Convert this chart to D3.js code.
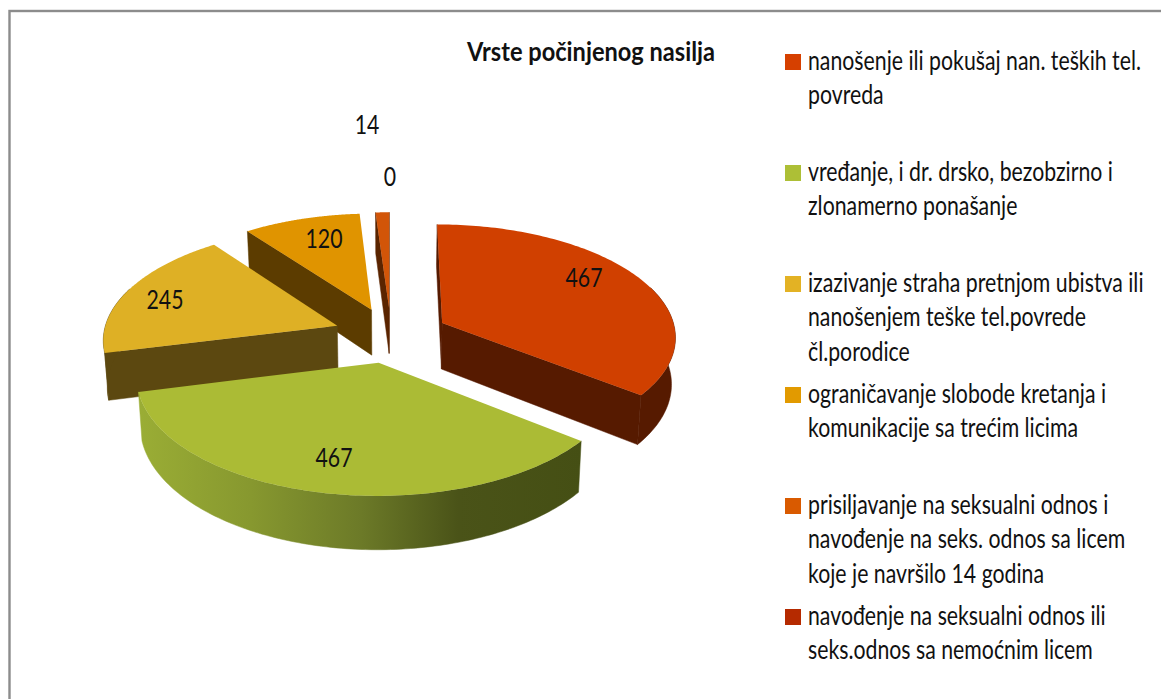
<!DOCTYPE html>
<html>
<head>
<meta charset="utf-8">
<script src="https://cdn.jsdelivr.net/npm/d3@7"></script>
<style>
    body { margin: 0; background: #fff; }
    text { font-family: "Lato", "Open Sans", sans-serif; fill: #111; }
</style>
</head>
<body>
<div id="chart"></div>
<script>
// Data
const categories = [
    "nanošenje ili pokušaj nan. teških tel. povreda",
    "vređanje, i dr. drsko, bezobzirno i zlonamerno ponašanje",
    "izazivanje straha pretnjom ubistva ili nanošenjem teške tel.povrede čl.porodice",
    "ograničavanje slobode kretanja i komunikacije sa trećim licima",
    "prisiljavanje na seksualni odnos i navođenje na seks. odnos sa licem koje je navršilo 14 godina",
    "navođenje na seksualni odnos ili seks.odnos sa nemoćnim licem"
];
const values = [467, 467, 245, 120, 14, 0];

const legendLines = [
    ["nanošenje ili pokušaj nan. teških tel.", "povreda"],
    ["vređanje, i dr. drsko, bezobzirno i", "zlonamerno ponašanje"],
    ["izazivanje straha pretnjom ubistva ili", "nanošenjem teške tel.povrede", "čl.porodice"],
    ["ograničavanje slobode kretanja i", "komunikacije sa trećim licima"],
    ["prisiljavanje na seksualni odnos i", "navođenje na seks. odnos sa licem", "koje je navršilo 14 godina"],
    ["navođenje na seksualni odnos ili", "seks.odnos sa nemoćnim licem"]
];

const topColors = ["#d04000", "#abbb35", "#deb025", "#e09400", "#d25508", "#b52a00"];
const wallColors = ["#561a00", "#5c6a1c", "#5c4810", "#5c3c00", "#5a2400", "#4a1000"];
const legendColors = ["#d64000", "#adbf36", "#e3b224", "#e29a00", "#d95a00", "#b52a00"];

// Chart layout
const svgWidth = 1161;
const svgHeight = 699;
const center = { x: 391, y: 335 };
const radiusX = 234;
const radiusY = 112;
const perspective = 0.11;
const explode = 0.246;
const depth = 46.5;
const bottomShrink = 0.014;
const legendRow = d3.scaleLinear().domain([0, 5]).range([54, 609]);

const svg = d3.select("#chart")
    .append("svg")
    .attr("width", svgWidth)
    .attr("height", svgHeight);

// Frame
svg.append("rect")
    .attr("x", 9.5)
    .attr("y", 11)
    .attr("width", 1162)
    .attr("height", 700)
    .attr("fill", "#fff")
    .attr("stroke", "#8c8c8c")
    .attr("stroke-width", 2.4);

// Shading across the front of the green wall
const gradient = svg.append("defs").append("linearGradient")
    .attr("id", "greenWall")
    .attr("gradientUnits", "userSpaceOnUse")
    .attr("x1", 140)
    .attr("x2", 582)
    .attr("y1", 0)
    .attr("y2", 0);
const gradientStops = [[0, "#9aad35"], [0.25, "#87982f"], [0.5, "#6c7a28"], [0.72, "#4a5318"], [1, "#454f14"]];
gradient.selectAll("stop")
    .data(gradientStops)
    .enter().append("stop")
    .attr("offset", d => d[0])
    .attr("stop-color", d => d[1]);

// Pie angles, clockwise from the top, in data order
const pie = d3.pie().sort(null).value(d => d);
const slices = pie(values)
    .map((d, i) => {
        const mid = (d.startAngle + d.endAngle) / 2;
        return {
            ...d,
            i,
            ox: explode * Math.sin(mid),
            oy: explode * Math.cos(mid)
        };
    })
    .filter(d => d.value > 0)
    .sort((a, b) => d3.descending(a.oy, b.oy));

// Ground plane to screen, dropped by h pixels
function project(wx, wy, h) {
    const s = 1 / (1 + perspective * wy);
    const shrink = 1 - bottomShrink * h / depth;
    return [
        center.x + radiusX * wx * s * shrink,
        center.y - radiusY * wy * s + h * s
    ];
}

function rimPoint(d, angle, h) {
    return project(d.ox + Math.sin(angle), d.oy + Math.cos(angle), h);
}

const line = d3.line().curve(d3.curveLinearClosed);

function drawWall(g, pts, color) {
    g.append("path")
        .attr("d", line(pts))
        .attr("fill", color)
        .attr("stroke", color)
        .attr("stroke-width", 0.5);
}

const sliceG = svg.selectAll(".slice")
    .data(slices)
    .enter().append("g")
    .attr("class", "slice");

sliceG.each(function (d) {
    const g = d3.select(this);
    const apexTop = project(d.ox, d.oy, 0);
    const apexBottom = project(d.ox, d.oy, depth);
    const angles = d3.range(0, 121).map(k => d.startAngle + (d.endAngle - d.startAngle) * k / 120);

    // Radial faces, only those turned to the viewer
    const startFace = [apexTop, rimPoint(d, d.startAngle, 0), rimPoint(d, d.startAngle, depth), apexBottom];
    const endFace = [apexTop, apexBottom, rimPoint(d, d.endAngle, depth), rimPoint(d, d.endAngle, 0)];
    if (d3.polygonArea(startFace) > 0) drawWall(g, startFace, wallColors[d.i]);
    if (d3.polygonArea(endFace) > 0) drawWall(g, endFace, wallColors[d.i]);

    // Outer wall, the part that faces the viewer
    const front = angles.filter(a => Math.cos(a) < 0.35);
    if (front.length > 1) {
        const rim = front.map(a => rimPoint(d, a, 0))
            .concat(front.slice().reverse().map(a => rimPoint(d, a, depth)));
        drawWall(g, rim, d.i === 1 ? "url(#greenWall)" : wallColors[d.i]);
    }

    // Top face
    const top = [apexTop].concat(angles.map(a => rimPoint(d, a, 0)));
    g.append("path")
        .attr("d", line(top))
        .attr("fill", topColors[d.i]);
});

// Lato is wider than the chart's font, so text gets squeezed to the reference width
function textScale(str, size, weight, target) {
    const probe = svg.append("text")
        .attr("font-size", size)
        .attr("font-weight", weight)
        .text(str);
    const w = probe.node().getComputedTextLength();
    probe.remove();
    return target / w;
}

const fontSize = 26;
const titleSize = 27;
const bodyScale = textScale(legendLines[0][0], fontSize, "normal", 333);
const titleScale = textScale("Vrste počinjenog nasilja", titleSize, "bold", 248);

// Title
svg.append("text")
    .attr("transform", `translate(591,61) scale(${titleScale},1)`)
    .attr("text-anchor", "middle")
    .attr("font-size", titleSize)
    .attr("font-weight", "bold")
    .text("Vrste počinjenog nasilja");

// Data labels
const labelX = [584, 334, 165, 324, 367, 390];
const labelY = [287, 467, 309, 248, 134, 186];
svg.selectAll(".value-label")
    .data(values)
    .enter().append("text")
    .attr("class", "value-label")
    .attr("transform", (d, i) => `translate(${labelX[i]},${labelY[i]}) scale(${bodyScale},1)`)
    .attr("text-anchor", "middle")
    .attr("font-size", fontSize)
    .text(d => d);

// Legend
const legend = svg.selectAll(".legend-item")
    .data(legendLines)
    .enter().append("g")
    .attr("class", "legend-item");

legend.append("rect")
    .attr("x", 785)
    .attr("y", (d, i) => legendRow(i))
    .attr("width", 16)
    .attr("height", 16)
    .attr("fill", (d, i) => legendColors[i]);

legend.each(function (d, i) {
    d3.select(this).selectAll("text")
        .data(d)
        .enter().append("text")
        .attr("transform", (t, k) => `translate(808,${legendRow(i) + 16 + k * 34.3}) scale(${bodyScale},1)`)
        .attr("font-size", fontSize)
        .text(t => t);
});
</script>
</body>
</html>
